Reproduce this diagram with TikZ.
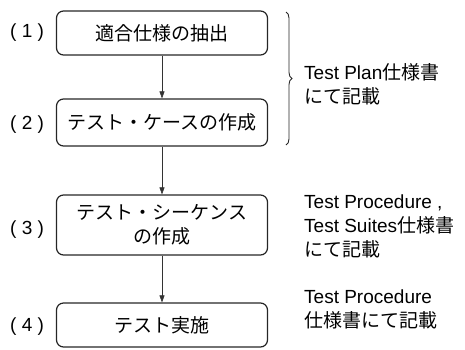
\documentclass[tikz,border=0pt]{standalone}
\usepackage{fontspec}
\setmainfont{Liberation Sans}
\newfontfamily\jp{Noto Sans CJK JP}
\usetikzlibrary{arrows.meta,decorations.pathreplacing}
\tikzset{
  stepbox/.style={draw=black!85, line width=1.2pt, rounded corners=7pt, minimum width=211pt, inner sep=0pt, align=center, font=\fontsize{19}{23.5}\selectfont\jp},
  flow/.style={draw=black!80, line width=0.6pt, -{Triangle[length=7pt,width=5pt]}},
  numlabel/.style={font=\fontsize{19}{23.5}\selectfont, anchor=west, inner sep=0pt},
  note/.style={font=\fontsize{19}{24}\selectfont, anchor=west, align=left, inner sep=0pt}
}
\newcommand{\J}[1]{{\jp #1}}
\begin{document}
\begin{tikzpicture}[x=1pt,y=-1pt]
\useasboundingbox (0,0) rectangle (465,349);
\node[stepbox, minimum height=44pt] (s1) at (162,33) {適合仕様の抽出};
\node[stepbox, minimum height=47pt] (s2) at (162,122.5) {テスト・ケースの作成};
\node[stepbox, minimum height=60pt] (s3) at (162,225) {テスト・シーケンス\\の作成};
\node[stepbox, minimum height=44pt] (s4) at (162,325) {テスト実施};
\draw[flow] (s1) -- (s2);
\draw[flow] (s2) -- (s3);
\draw[flow] (s3) -- (s4);
\node[numlabel] (n1) at (10,33) {( 1 )};
\node[numlabel] (n2) at (10,125) {( 2 )};
\node[numlabel] (n3) at (10,230) {( 3 )};
\node[numlabel] (n4) at (10,327) {( 4 )};
\coordinate (bt) at (286,12);
\coordinate (bb) at (286,145);
\draw[black!85, line width=0.9pt, decorate, decoration={brace, amplitude=6pt}] (bt) -- (bb);
\node[note] (t1) at (304,84) {Test Plan\J{仕様書}\\\J{にて記載}};
\node[note] (t2) at (304,226) {Test Procedure ,\\Test Suites\J{仕様書}\\\J{にて記載}};
\node[note] (t3) at (304,309) {Test Procedure\\\J{仕様書にて記載}};
\end{tikzpicture}
\end{document}
